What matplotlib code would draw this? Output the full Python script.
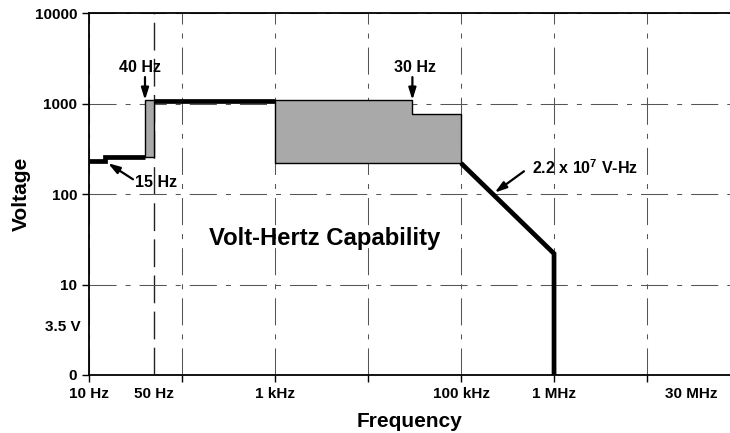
import matplotlib
matplotlib.use('Agg')
import matplotlib.pyplot as plt

plt.rcParams['font.family'] = ['Liberation Sans', 'DejaVu Sans']
plt.rcParams['font.weight'] = 'bold'
plt.rcParams['mathtext.fontset'] = 'custom'
plt.rcParams['mathtext.rm'] = 'Liberation Sans:bold'
plt.rcParams['mathtext.default'] = 'rm'
plt.rcParams['lines.scale_dashes'] = False

# thick capability line
low_f = [10, 15, 15, 40]
low_v = [230, 230, 260, 260]
mid_f = [50, 1000]
mid_v = [1060, 1060]
roll_f = [1e5, 1e6, 1e6]
roll_v = [220, 22, 1]

# gray capability regions
box1_f = [40, 50, 50, 40]
box1_v = [1100, 1100, 260, 260]
box2_f = [1e3, 3e4, 3e4, 1e5, 1e5, 1e3]
box2_v = [1100, 1100, 770, 770, 220, 220]

# ticks
xt = [10, 100, 1e3, 1e4, 1e5, 1e6, 1e7]
xt_lab = ['10 Hz', '', '1 kHz', '', '100 kHz', '1 MHz', '']
xt_minor = [50, 3e7]
xt_minor_lab = ['50 Hz', '30 MHz']
yt = [1, 10, 100, 1000, 10000]
yt_lab = ['0', '10', '100', '1000', '10000']
yt_minor = [3.5]
yt_minor_lab = ['3.5 V']
mark_f = 50

fig = plt.figure(figsize=(7.3, 4.33), dpi=100)
ax = fig.add_axes([89/730, 1-375/433, (730-89)/730, (375-13.3)/433])
ax.set_xscale('log')
ax.set_yscale('log')
ax.set_xlim(10, 10**7.892)
ax.set_ylim(1, 10000)

grid_ls = (0, (19.5, 6.5, 3.6, 6.5))
ax.grid(True, which='major', linestyle=grid_ls, color='#555555', linewidth=0.75)
ax.axvline(mark_f, linestyle=(0, (20, 6)), color='#222222', linewidth=1.0, zorder=1)

ax.fill(box1_f, box1_v, facecolor='#a9a9a9', edgecolor='black', linewidth=1.0, zorder=3)
ax.fill(box2_f, box2_v, facecolor='#a9a9a9', edgecolor='black', linewidth=1.0, zorder=3)

for f, v in [(low_f, low_v), (mid_f, mid_v), (roll_f, roll_v)]:
    ax.plot(f, v, color='black', linewidth=3.4, solid_capstyle='butt',
            solid_joinstyle='miter', zorder=4)

ax.set_xticks(xt, xt_lab)
ax.set_xticks(xt_minor, xt_minor_lab, minor=True)
ax.set_yticks(yt, yt_lab)
ax.set_yticks(yt_minor, yt_minor_lab, minor=True)
ax.tick_params(which='major', length=5, width=1, labelsize=11, pad=3.5)
ax.tick_params(axis='x', which='minor', length=0, labelsize=11, pad=8.5)
ax.tick_params(axis='y', which='minor', length=0, labelsize=11, pad=5.8)
for lab in ax.get_xticklabels(which='both') + ax.get_yticklabels(which='both'):
    lab.set_fontweight('bold')

ax.spines['right'].set_visible(False)
for s in ['left', 'bottom', 'top']:
    ax.spines[s].set_linewidth(1.3)

ax.set_xlabel('Frequency', fontsize=15, fontweight='bold', labelpad=8)
ax.set_ylabel('Voltage', fontsize=15, fontweight='bold', labelpad=3)

arrow = dict(arrowstyle='-|>,head_width=0.22,head_length=0.7', color='black',
             linewidth=1.6, shrinkA=0, shrinkB=0)
ax.annotate('', xy=(40, 1100), xytext=(40, 1970), arrowprops=arrow, zorder=5)
ax.text(35.3, 2540, '40 Hz', fontsize=11.5, fontweight='bold', ha='center', va='center')
ax.annotate('', xy=(16, 220), xytext=(29.7, 146), arrowprops=arrow, zorder=5)
ax.text(31.3, 135, '15 Hz', fontsize=11.5, fontweight='bold', ha='left', va='center')
ax.annotate('', xy=(3e4, 1100), xytext=(3e4, 1970), arrowprops=arrow, zorder=5)
ax.text(3.2e4, 2540, '30 Hz', fontsize=11.5, fontweight='bold', ha='center', va='center')
ax.annotate('', xy=(2.3e5, 104), xytext=(4.75e5, 179), arrowprops=arrow, zorder=5)
ax.text(5.8e5, 194, r'2.2 x 10$^7$ V-Hz', fontsize=11.5, fontweight='bold',
        ha='left', va='center')
ax.text(3450, 32.5, 'Volt-Hertz Capability', fontsize=17.2, fontweight='bold',
        ha='center', va='center')

fig.savefig('out.png', dpi=100)
